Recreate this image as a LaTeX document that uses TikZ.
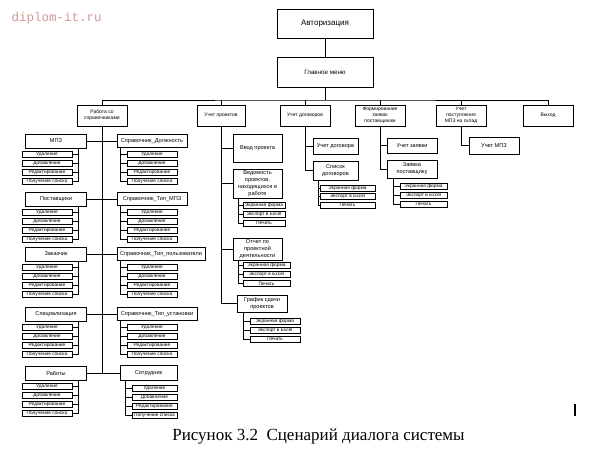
\documentclass[tikz,border=0pt]{standalone}
\usepackage{fontspec}
\setmainfont{Liberation Sans}
\newfontfamily\capfont{Liberation Serif}
\newfontfamily\wmfont{Liberation Mono}
\definecolor{wmpink}{RGB}{214,150,150}
\tikzset{
  bx/.style={draw, line width=0.6pt, inner sep=0pt, align=center},
  it/.style={draw, line width=0.6pt, inner sep=0pt, minimum height=6pt, font=\fontsize{4.8}{5}\selectfont},
  ln/.style={line width=0.6pt},
  f1/.style={font=\fontsize{5}{5.9}\selectfont},
  f2/.style={font=\fontsize{5.6}{6.8}\selectfont},
}
\def\crud{Удаление,Добавление,Редактирование,Получение списка}
\def\rep{Экранная форма,Экспорт в Excel,Печать}
% #1 parent, #2 prefix, #3 item cx, #4 first cy, #5 width, #6 tap x, #7 side, #8 list macro, #9 pitch
\newcommand\SubList[9]{%
  \coordinate (#2t) at (#1.south -| #6,0);
  \foreach \t [count=\i] in #8 {
    \pgfmathsetmacro\yy{#4+#9*(\i-1)}
    \node[it, minimum width=#5pt] (#2\i) at (#3,\yy) {\t};
    \draw[ln] (#2\i.#7) -- (#2\i.#7 -| #2t) -- (#2t);
  }%
}
\begin{document}
\begin{tikzpicture}[x=1pt,y=-1pt]
\fill[white] (0,0) rectangle (595,460);
\useasboundingbox (0,0) rectangle (595,460);

\node[font=\wmfont\fontsize{12.5}{13}\selectfont, text=wmpink, anchor=west] (wm) at (8,18) {diplom-it.ru};

% top
\node[bx, minimum width=96pt, minimum height=29pt, font=\fontsize{8}{9}\selectfont] (auth) at (325,23.5) {Авторизация};
\node[bx, minimum width=96pt, minimum height=30pt, font=\fontsize{6.2}{7}\selectfont] (menu) at (325,72) {Главное меню};
\coordinate (bus) at (325,100);

% level 1
\node[bx, f1, minimum width=50pt, minimum height=21pt] (spr) at (102,115.5) {Работа со\\справочниками};
\node[bx, f1, minimum width=48pt, minimum height=21pt] (proj) at (221,115.5) {Учет проектов};
\node[bx, f1, minimum width=50pt, minimum height=21pt] (dog) at (305,115.5) {Учет договоров};
\node[bx, f1, minimum width=50pt, minimum height=21pt] (zay) at (380,115.5) {Формирование\\заявок\\поставщикам};
\node[bx, f1, minimum width=50pt, minimum height=21pt] (post) at (461,115.5) {Учет\\поступления\\МПЗ на склад};
\node[bx, f1, minimum width=50pt, minimum height=21pt] (exit) at (548,115.5) {Выход};

\draw[ln] (auth) -- (menu);
\draw[ln] (menu.south) -- (bus);
\draw[ln] (spr.north) |- (bus) -| (exit.north);
\foreach \n in {proj,dog,zay,post} \draw[ln] (\n.north) -- (\n.north |- bus);

% справочники: left column
\node[bx, f2, minimum width=61pt, minimum height=14pt] (mpz) at (56,141) {МПЗ};
\node[bx, f2, minimum width=61pt, minimum height=14pt] (postav) at (56,199) {Поставщики};
\node[bx, f2, minimum width=61pt, minimum height=14pt] (zakaz) at (56,254) {Заказчик};
\node[bx, f2, minimum width=61pt, minimum height=14pt] (spec) at (56,314) {Специализация};
\node[bx, f2, minimum width=61pt, minimum height=14pt] (rab) at (56,373) {Работы};
% right column
\node[bx, f2, minimum width=70pt, minimum height=13pt] (dolzh) at (152,141) {Справочник\_Должность};
\node[bx, f2, minimum width=70pt, minimum height=13pt] (tipmpz) at (152,199) {Справочник\_Тип\_МПЗ};
\node[bx, f2, minimum width=88pt, minimum height=13pt] (tippol) at (161,254) {Справочник\_Тип\_пользователи};
\node[bx, f2, minimum width=80pt, minimum height=13pt] (tipust) at (157,314) {Справочник\_Тип\_установки};
\node[bx, f2, minimum width=57pt, minimum height=15pt] (sotr) at (148.5,373) {Сотрудник};

\foreach \n in {mpz,postav,zakaz,spec,rab} \draw[ln] (spr.south) |- (\n.east);
\foreach \n in {dolzh,tipmpz,tippol,tipust,sotr} \draw[ln] (spr.south) |- (\n.west);

\SubList{mpz}{ma}{47}{154.5}{50}{78}{east}{\crud}{9}
\SubList{postav}{pa}{47}{212.5}{50}{78}{east}{\crud}{9}
\SubList{zakaz}{za}{47}{267.5}{50}{78}{east}{\crud}{9}
\SubList{spec}{sa}{47}{327.5}{50}{78}{east}{\crud}{9}
\SubList{rab}{ra}{47}{386.5}{50}{78}{east}{\crud}{9}
\SubList{dolzh}{da}{152}{154.5}{50}{120}{west}{\crud}{9}
\SubList{tipmpz}{ta}{152}{212.5}{50}{120}{west}{\crud}{9}
\SubList{tippol}{tb}{152}{267.5}{50}{120}{west}{\crud}{9}
\SubList{tipust}{tc}{152}{327.5}{50}{120}{west}{\crud}{9}
\SubList{sotr}{so}{154.5}{388}{45}{125}{west}{\crud}{9}

% projects
\node[bx, f2, minimum width=49pt, minimum height=28pt] (vvod) at (257.5,148) {Ввод проекта};
\node[bx, f2, minimum width=49pt, minimum height=29pt] (ved) at (257.5,183.5) {Ведомость\\проектов,\\находящихся в\\работе};
\node[bx, f2, minimum width=49pt, minimum height=22pt] (otchet) at (257.5,249) {Отчет по\\проектной\\деятельности};
\node[bx, f2, minimum width=50pt, minimum height=17pt] (grafik) at (262,303.5) {График сдачи\\проектов};
\foreach \n in {vvod,ved,otchet,grafik} \draw[ln] (proj.south) |- (\n.west);
\SubList{ved}{va}{264}{205}{42}{238}{west}{\rep}{9}
\SubList{otchet}{oa}{266.5}{265.5}{47}{238}{west}{\rep}{9}
\SubList{grafik}{ga}{275}{321}{50}{243}{west}{\rep}{9}

% contracts
\node[bx, f2, minimum width=45pt, minimum height=16pt] (uchdog) at (335.5,146) {Учет договора};
\node[bx, f2, minimum width=45pt, minimum height=19pt] (spisok) at (335.5,170.5) {Список\\договоров};
\foreach \n in {uchdog,spisok} \draw[ln] (dog.south) |- (\n.west);
\SubList{spisok}{sl}{347.5}{188}{55}{318}{west}{\rep}{8.5}

% orders
\node[bx, f2, minimum width=50pt, minimum height=15pt] (uchzay) at (412,145.5) {Учет заявки};
\node[bx, f2, minimum width=50pt, minimum height=18pt] (zayavka) at (412,169) {Заявка\\поставщику};
\foreach \n in {uchzay,zayavka} \draw[ln] (zay.south) |- (\n.west);
\SubList{zayavka}{zl}{423.5}{186}{47}{393}{west}{\rep}{9}

% receipts
\node[bx, f2, minimum width=50pt, minimum height=17pt] (uchmpz) at (494,145.5) {Учет МПЗ};
\draw[ln] (post.south) |- (uchmpz.west);

\node[fill=black, minimum width=1.5pt, minimum height=12pt, inner sep=0pt] (cursor) at (575,410) {};
\node[font=\capfont\fontsize{17}{18}\selectfont] (cap) at (318.5,437) {Рисунок 3.2\ \ Сценарий диалога системы};
\end{tikzpicture}
\end{document}
